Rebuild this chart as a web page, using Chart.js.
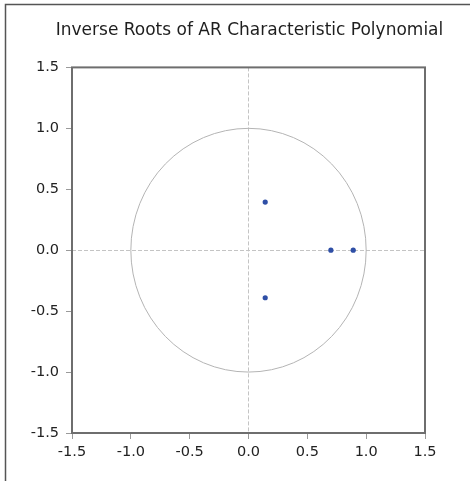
<!DOCTYPE html>
<html>
<head>
<meta charset="utf-8">
<script src="https://cdn.jsdelivr.net/npm/chart.js@4"></script>
<style>
  body { margin: 0; background: #fff; }
  #wrap { width: 470px; height: 481px; }
</style>
</head>
<body>
<div id="wrap"><canvas id="myChart" width="470" height="481"></canvas></div>
<script>
// inverse roots, real and imaginary parts
const rootRe = [0.142, 0.142, 0.70, 0.89]
const rootIm = [0.395, -0.39, 0.0, 0.0]
const tickVals = [-1.5, -1.0, -0.5, 0.0, 0.5, 1.0, 1.5]

const points = rootRe.map((re, i) => ({ x: re, y: rootIm[i] }))

// unit circle, frame round the plot and the outer frame
const extras = {
    id: 'extras',
    beforeDatasetsDraw(chart) {
        const ctx = chart.ctx
        const xs = chart.scales.x, ys = chart.scales.y
        const cx = xs.getPixelForValue(0), cy = ys.getPixelForValue(0)
        const rx = Math.abs(xs.getPixelForValue(1) - cx)
        const ry = Math.abs(ys.getPixelForValue(1) - cy)
        ctx.save()
        ctx.strokeStyle = '#b4b4b4'
        ctx.lineWidth = 1
        ctx.beginPath()
        ctx.ellipse(cx, cy, rx, ry, 0, 0, Math.PI * 2)
        ctx.stroke()
        ctx.restore()
    },
    afterDraw(chart) {
        const ctx = chart.ctx
        const a = chart.chartArea
        ctx.save()
        ctx.strokeStyle = '#6e6e6e'
        ctx.lineWidth = 2
        ctx.strokeRect(a.left, a.top, a.right - a.left, a.bottom - a.top)
        ctx.strokeStyle = '#555'
        ctx.lineWidth = 1.5
        ctx.beginPath()
        ctx.moveTo(5.5, 481)
        ctx.lineTo(5.5, 4.5)
        ctx.lineTo(470, 4.5)
        ctx.stroke()
        ctx.restore()
    }
}

const axisFont = { family: 'DejaVu Sans', size: 14.5 }

function axis(extra) {
    return Object.assign({
        type: 'linear',
        min: -1.5,
        max: 1.5,
        afterBuildTicks: (scale) => { scale.ticks = tickVals.map(v => ({ value: v })) },
        ticks: {
            color: '#222',
            font: axisFont,
            callback: (v) => Number(v).toFixed(1)
        },
        grid: {
            color: (c) => (c.tick && c.tick.value === 0) ? '#c4c4c4' : 'rgba(0,0,0,0)',
            lineWidth: 1,
            tickColor: '#9a9a9a',
            tickLength: 6,
            tickBorderDash: []
        },
        border: { display: false, dash: [4, 2] }
    }, extra)
}

const xAxis = axis({ afterFit: (s) => { s.height = 48 } })
xAxis.ticks.padding = 5
xAxis.ticks.maxRotation = 0
const yAxis = axis({ afterFit: (s) => { s.width = 43 } })
yAxis.ticks.padding = 7

// empty axis on the right, only to keep room there
const rightGap = {
    type: 'linear',
    position: 'right',
    ticks: { display: false },
    grid: { display: false },
    border: { display: false },
    afterFit: (s) => { s.width = 45 }
}

new Chart('myChart', {
    type: 'scatter',
    data: {
        datasets: [{
            label: 'Inverse roots',
            data: points,
            backgroundColor: '#2f4fa6',
            borderColor: '#2f4fa6',
            pointRadius: 2.6,
            pointBorderWidth: 0
        }]
    },
    options: {
        responsive: false,
        animation: false,
        layout: { padding: { left: 29, right: 0, top: 0, bottom: 0 } },
        plugins: {
            legend: { display: false },
            tooltip: { enabled: false },
            title: {
                display: true,
                text: 'Inverse Roots of AR Characteristic Polynomial',
                color: '#1e1e1e',
                font: { family: 'DejaVu Sans', size: 17, weight: 'normal' },
                padding: { top: 20, bottom: 27 }
            }
        },
        scales: { x: xAxis, y: yAxis, gap: rightGap }
    },
    plugins: [extras]
})
</script>
</body>
</html>
